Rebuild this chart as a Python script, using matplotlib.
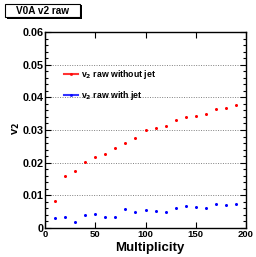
import matplotlib
matplotlib.use("Agg")
import matplotlib.pyplot as plt
from matplotlib.patches import Rectangle
from matplotlib.ticker import MultipleLocator, FuncFormatter

plt.rcParams["font.family"] = ["Liberation Sans", "DejaVu Sans"]
plt.rcParams["font.weight"] = "bold"

mult = [10, 20, 30, 40, 50, 60, 70, 80, 90, 100, 110, 120, 130, 140, 150, 160, 170, 180, 190]
v2_no_jet = [0.0083, 0.0158, 0.0175, 0.0203, 0.0218, 0.0228, 0.0246, 0.0261, 0.0274, 0.0299,
             0.0306, 0.0313, 0.0330, 0.0340, 0.0343, 0.0349, 0.0363, 0.0366, 0.0378]
v2_jet = [0.0031, 0.0033, 0.0017, 0.0039, 0.0044, 0.0035, 0.0035, 0.0058, 0.0050, 0.0054,
          0.0053, 0.0049, 0.0060, 0.0067, 0.0063, 0.0062, 0.0072, 0.0069, 0.0074]

fig = plt.figure(figsize=(2.56, 2.57), dpi=100)
ax = fig.add_axes([45/256, 29/257, 201/256, 196/257])

ax.plot(mult, v2_no_jet, "o", color="red", ms=2.2, mec="none", label=r"v$_2$ raw without jet")
ax.plot(mult, v2_jet, "o", color="blue", ms=2.2, mec="none", label=r"v$_2$ raw with jet")

ax.set_xlim(0, 200)
ax.set_ylim(0, 0.06)
ax.xaxis.set_major_locator(MultipleLocator(50))
ax.xaxis.set_minor_locator(MultipleLocator(10))
ax.yaxis.set_major_locator(MultipleLocator(0.01))
ax.yaxis.set_minor_locator(MultipleLocator(0.002))
ax.yaxis.set_major_formatter(FuncFormatter(lambda v, _: "0" if abs(v) < 1e-9 else f"{v:.2f}"))
ax.tick_params(axis="both", which="both", direction="in", top=True, right=True, width=0.8)
ax.tick_params(axis="both", which="major", length=4.5)
ax.tick_params(axis="both", which="minor", length=2.2)
ax.tick_params(axis="x", which="minor", length=0)
ax.tick_params(axis="y", labelsize=7.8, pad=1)
ax.tick_params(axis="x", labelsize=6.8, pad=1.5)
for s in ax.spines.values():
    s.set_linewidth(1.0)

ax.grid(axis="y", which="major", color="gray", ls=(0, (1, 1.5)), lw=0.7)
ax.set_axisbelow(True)

ax.set_xlabel("Multiplicity", fontsize=9.5, fontweight="bold", x=0.52, labelpad=2)
ax.set_ylabel(r"v$_2$", fontsize=8, fontweight="bold", y=0.51, labelpad=0)

leg = ax.legend(loc="upper left", bbox_to_anchor=(0.055, 0.855), frameon=False, fontsize=6.3,
                handlelength=1.6, handletextpad=0.3, labelspacing=0.85, markerscale=1.0)
for h in leg.legend_handles:
    h.set_linestyle("-")
    h.set_linewidth(1.5)
    h.set_alpha(0.8)

# title box with shadow
fig.patches.append(Rectangle((6.5/256, 1 - 18.5/257), 75/256, 13/257, transform=fig.transFigure,
                             facecolor="black", edgecolor="none"))
fig.patches.append(Rectangle((5/256, 1 - 17/257), 75/256, 13/257, transform=fig.transFigure,
                             facecolor="white", edgecolor="black", lw=0.8))
fig.text(42/256, 1 - 10.5/257, "V0A v2 raw", ha="center", va="center", fontsize=7.2, fontweight="bold")

fig.savefig("out.png", dpi=100)
